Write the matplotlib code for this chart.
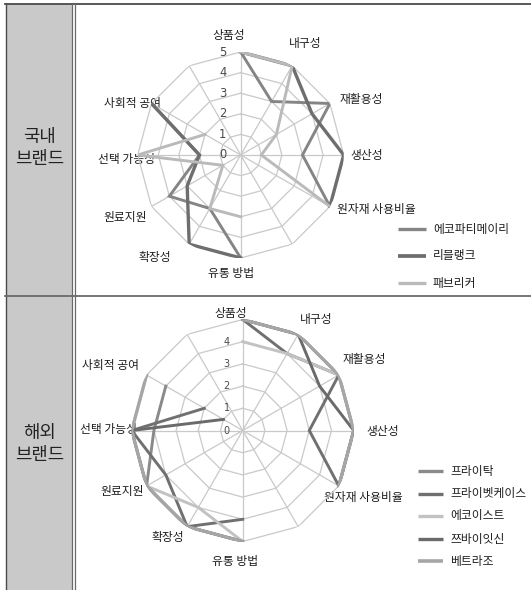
import numpy as np
import matplotlib
matplotlib.use("Agg")
import matplotlib.pyplot as plt
from matplotlib.transforms import offset_copy

plt.rcParams["font.family"] = ["Noto Sans CJK KR", "DejaVu Sans"]

W, H = 531, 590
NA = np.nan

# 12 spokes clockwise from the top; two of them carry no label and no values
CATEGORIES = ["상품성", "내구성", "재활용성", "생산성", "원자재 사용비율", "",
              "유통 방법", "확장성", "원료지원", "선택 가능성", "사회적 공여", ""]

DOMESTIC = ["에코파티메이리", "리블랭크", "패브리커"]
DOMESTIC_VALUES = [
    [5, 3, 5, 3, 5, NA, 5, 3, 4, 2, 5, NA],
    [5, 5, 4, 5, 5, NA, 5, 5, 3, 2, 5, NA],
    [5, 5, 2, 1, 5, NA, 3, 3, 1, 5, 2, NA],
]
DOMESTIC_COLORS = ["#858585", "#6e6e6e", "#bababa"]
DOMESTIC_WIDTHS = [2.1, 2.4, 2.1]

FOREIGN = ["프라이탁", "프라이벳케이스", "에코이스트", "쯔바이잇신", "베트라조"]
FOREIGN_VALUES = [
    [5, 5, 5, 5, 5, NA, 5, 5, 5, 4, 4, NA],
    [5, 4, 5, 3, 5, NA, 4, 5, 4, 5, 2, NA],
    [4, 4, 5, 5, 5, NA, 5, 4, 5, 5, 5, NA],
    [5, 5, 4, 5, 5, NA, 5, 5, 5, 5, 1, NA],
    [5, 5, 5, 5, 5, NA, 5, 5, 5, 5, 5, NA],
]
FOREIGN_COLORS = ["#8a8a8a", "#707070", "#c2c2c2", "#6a6a6a", "#a6a6a6"]
FOREIGN_WIDTHS = [2.1, 2.1, 2.1, 2.1, 2.3]

TOP_TICKS = [0, 1, 2, 3, 4, 5]
BOT_TICKS = [0, 1, 2, 3, 4]   # the "5" is hidden under the 상품성 label

# label placement in pixels (x, y, ha) for each chart
TOP_LABEL_POS = {
    "상품성": (229, 35, "center"), "내구성": (305, 43, "center"),
    "재활용성": (361, 100, "center"), "생산성": (367, 155, "center"),
    "원자재 사용비율": (337, 210, "left"), "유통 방법": (231, 273, "center"),
    "확장성": (155, 257, "center"), "원료지원": (125, 217, "center"),
    "선택 가능성": (127, 160, "center"), "사회적 공여": (133, 103, "center"),
}
BOT_LABEL_POS = {
    "상품성": (231, 313, "center"), "내구성": (316, 320, "center"),
    "재활용성": (364, 360, "center"), "생산성": (383, 432, "center"),
    "원자재 사용비율": (363, 498, "center"), "유통 방법": (235, 562, "center"),
    "확장성": (168, 537, "center"), "원료지원": (122, 492, "center"),
    "선택 가능성": (109, 430, "center"), "사회적 공여": (110, 365, "center"),
}

GRID = "#c9c9c9"
fig = plt.figure(figsize=(W / 100, H / 100), dpi=100)
fig.patch.set_facecolor("white")

bg = fig.add_axes([0, 0, 1, 1])
bg.set_xlim(0, W)
bg.set_ylim(H, 0)
bg.set_axis_off()

# table frame
bg.fill_between([6, 72], 4, H, color="#c9c9c9", lw=0)
bg.plot([5, W], [3.5, 3.5], color="#4a4a4a", lw=1.3)
bg.plot([5.5, 5.5], [3.5, H], color="#4a4a4a", lw=1.0)
bg.plot([72, 72], [3.5, H], color="#6a6a6a", lw=0.9)
bg.plot([74.5, 74.5], [3.5, H], color="#6a6a6a", lw=0.9)
bg.plot([5, W], [295.5, 295.5], color="#6a6a6a", lw=1.3)

bg.text(40, 148, "국내\n브랜드", ha="center", va="center", fontsize=12.8,
        linespacing=1.3, color="#222222")
bg.text(40, 444, "해외\n브랜드", ha="center", va="center", fontsize=12.8,
        linespacing=1.3, color="#222222")


def radar(cx, cy, R, values, colors, widths, ticks, tick_dx, tick_size, label_pos):
    ax = fig.add_axes([(cx - R) / W, 1 - (cy + R) / H, 2 * R / W, 2 * R / H],
                      projection="polar")
    ax.set_theta_zero_location("N")
    ax.set_theta_direction(-1)
    ax.set_ylim(0, 5)
    ax.set_axis_off()
    theta = np.deg2rad(np.arange(len(CATEGORIES)) * 30.0)
    closed = np.append(theta, theta[0])
    for r in range(1, 6):
        ax.plot(closed, [r] * len(closed), color=GRID, lw=0.9, zorder=1)
    for t in theta:
        ax.plot([t, t], [0, 5], color=GRID, lw=0.9, zorder=1)
    for vals, c, lw in zip(values, colors, widths):
        v = np.append(vals, vals[0])
        ax.plot(closed, v, color=c, lw=lw, solid_joinstyle="miter", zorder=3)
    tr = offset_copy(ax.transData, fig=fig, x=tick_dx, y=0, units="dots")
    for r in ticks:
        ax.text(0, r, str(r), transform=tr, ha="center", va="center",
                fontsize=tick_size, color="#4a4a4a", family="DejaVu Sans", zorder=2)
    for name in CATEGORIES:
        if name:
            x, y, ha = label_pos[name]
            bg.text(x, y, name, ha=ha, va="center", fontsize=8.5, color="#1e1e1e")
    return ax


def legend(names, colors, widths, x0, x1, ys):
    for name, c, lw, y in zip(names, colors, widths, ys):
        bg.plot([x0, x1], [y, y], color=c, lw=lw + 0.3, solid_capstyle="butt")
        bg.text(x1 + 7, y, name, ha="left", va="center", fontsize=8.5, color="#1e1e1e")


radar(240.7, 155, 103, DOMESTIC_VALUES, DOMESTIC_COLORS, DOMESTIC_WIDTHS,
      TOP_TICKS, -18, 8.3, TOP_LABEL_POS)
radar(242.7, 430.5, 111, FOREIGN_VALUES, FOREIGN_COLORS, FOREIGN_WIDTHS,
      BOT_TICKS, -16, 7.0, BOT_LABEL_POS)

legend(DOMESTIC, DOMESTIC_COLORS, DOMESTIC_WIDTHS, 398, 426, [229, 256, 283])
legend(FOREIGN, FOREIGN_COLORS, FOREIGN_WIDTHS, 418, 443, [471, 494, 516, 539, 561])

fig.savefig("out.png", dpi=100)
